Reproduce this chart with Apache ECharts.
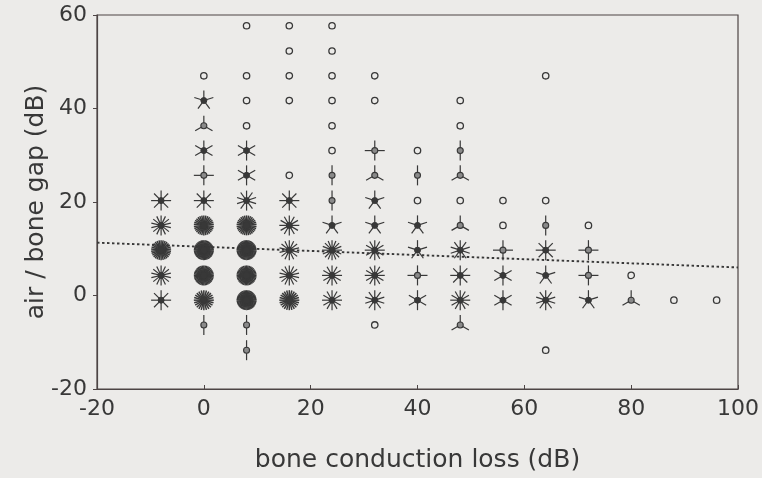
<!DOCTYPE html>
<html>
<head>
<meta charset="utf-8">
<script src="https://cdn.jsdelivr.net/npm/echarts@6/dist/echarts.min.js"></script>
<style>
  html, body { margin: 0; padding: 0; background: #ecebe9; }
  #chart { width: 762px; height: 478px; }
</style>
</head>
<body>
<div id="chart"></div>
<script>
// Bone conduction loss bins (x) and air/bone gap bins (y), in dB
const boneLevels = [-8, 0, 8, 16, 24, 32, 40, 48, 56, 64, 72, 80, 88, 96];
const gapLevels = [-11.7, -6.3, -1, 4.3, 9.7, 15, 20.3, 25.7, 31, 36.3, 41.7, 47, 52.3, 57.7];

// Number of ears in each cell: one row per bone level, one entry per gap level
const cellCounts = [
  [0, 0, 8, 14, 30, 14, 8, 0, 0, 0, 0, 0, 0, 0],      // -8
  [0, 2, 24, 40, 45, 30, 8, 4, 6, 3, 5, 1, 0, 0],     // 0
  [2, 2, 45, 40, 45, 30, 10, 6, 6, 1, 1, 1, 0, 1],    // 8
  [0, 0, 24, 14, 14, 12, 8, 1, 0, 0, 1, 1, 1, 1],     // 16
  [0, 0, 12, 12, 16, 5, 2, 2, 1, 1, 1, 1, 1, 1],      // 24
  [0, 1, 10, 12, 12, 5, 5, 3, 4, 0, 1, 1, 0, 0],      // 32
  [0, 0, 6, 4, 5, 5, 1, 2, 1, 0, 0, 0, 0, 0],         // 40
  [0, 3, 12, 8, 10, 3, 1, 3, 2, 1, 1, 0, 0, 0],       // 48
  [0, 0, 6, 6, 4, 1, 1, 0, 0, 0, 0, 0, 0, 0],         // 56
  [1, 0, 10, 5, 8, 2, 1, 0, 0, 0, 0, 1, 0, 0],        // 64
  [0, 0, 5, 4, 4, 1, 0, 0, 0, 0, 0, 0, 0, 0],         // 72
  [0, 0, 3, 1, 0, 0, 0, 0, 0, 0, 0, 0, 0, 0],         // 80
  [0, 0, 1, 0, 0, 0, 0, 0, 0, 0, 0, 0, 0, 0],         // 88
  [0, 0, 1, 0, 0, 0, 0, 0, 0, 0, 0, 0, 0, 0]          // 96
];

// Fitted regression line end points
const trendBone = [-20, 100];
const trendGap = [11.3, 6.0];

// Axis ticks
const xTicks = [-20, 0, 20, 40, 60, 80, 100];
const yTicks = [-20, 0, 20, 40, 60];

const ink = '#383838';
const frame = '#4d4545';

const sunflowers = [];
boneLevels.forEach((b, i) => {
  gapLevels.forEach((g, j) => {
    const n = cellCounts[i][j];
    if (n > 0) sunflowers.push([b, g, n]);
  });
});

// One petal per observation, first petal pointing straight up
function drawSunflower(params, api) {
  const c = api.coord([api.value(0), api.value(1)]);
  const n = api.value(2);
  const R = 10;
  const children = [];
  if (n === 1) {
    children.push({
      type: 'circle',
      shape: { cx: c[0], cy: c[1], r: 3.2 },
      style: { fill: 'none', stroke: ink, lineWidth: 1.3 }
    });
  } else {
    for (let k = 0; k < n; k++) {
      const a = -Math.PI / 2 + 2 * Math.PI * k / n;
      children.push({
        type: 'line',
        shape: { x1: c[0], y1: c[1], x2: c[0] + R * Math.cos(a), y2: c[1] + R * Math.sin(a) },
        style: { stroke: ink, lineWidth: n > 20 ? 1.5 : 1.2 }
      });
    }
    children.push({
      type: 'circle',
      shape: { cx: c[0], cy: c[1], r: 3 },
      style: n < 5 ? { fill: '#8a8a8a', stroke: ink, lineWidth: 1.1 } : { fill: ink, stroke: ink, lineWidth: 1 }
    });
  }
  return { type: 'group', children };
}

const chart = echarts.init(document.getElementById('chart'), null, { renderer: 'canvas' });
const font = 'DejaVu Sans';
chart.setOption({
  backgroundColor: '#ecebe9',
  animation: false,
  grid: {
    left: 97, right: 21, top: 15, bottom: 88,
    show: true, borderColor: frame, borderWidth: 1.2, backgroundColor: 'transparent'
  },
  xAxis: {
    type: 'value',
    min: xTicks[0], max: xTicks[xTicks.length - 1], interval: 20,
    name: 'bone conduction loss (dB)',
    nameLocation: 'middle', nameGap: 59, nameMoveOverlap: false,
    nameTextStyle: { fontFamily: font, fontSize: 25, color: ink },
    axisLine: { show: true, onZero: false, lineStyle: { color: frame, width: 1.2 } },
    axisTick: { show: true, inside: true, length: 4, lineStyle: { color: frame } },
    axisLabel: { fontFamily: font, fontSize: 22, color: ink, margin: 9 },
    splitLine: { show: false }
  },
  yAxis: {
    type: 'value',
    min: yTicks[0], max: yTicks[yTicks.length - 1], interval: 20,
    name: 'air / bone gap (dB)',
    nameLocation: 'middle', nameGap: 48, nameMoveOverlap: false,
    nameTextStyle: { fontFamily: font, fontSize: 25, color: ink },
    axisLine: { show: true, onZero: false, lineStyle: { color: frame, width: 1.2 } },
    axisTick: { show: true, inside: false, length: 4, lineStyle: { color: frame } },
    axisLabel: { fontFamily: font, fontSize: 22, color: ink, margin: 10 },
    splitLine: { show: false }
  },
  series: [
    {
      type: 'line',
      data: trendBone.map((b, i) => [b, trendGap[i]]),
      symbol: 'none',
      lineStyle: { color: ink, width: 1.9, type: [2.5, 2.5] },
      z: 1
    },
    {
      type: 'custom',
      renderItem: drawSunflower,
      data: sunflowers,
      clip: false,
      z: 2
    }
  ]
});
</script>
</body>
</html>
